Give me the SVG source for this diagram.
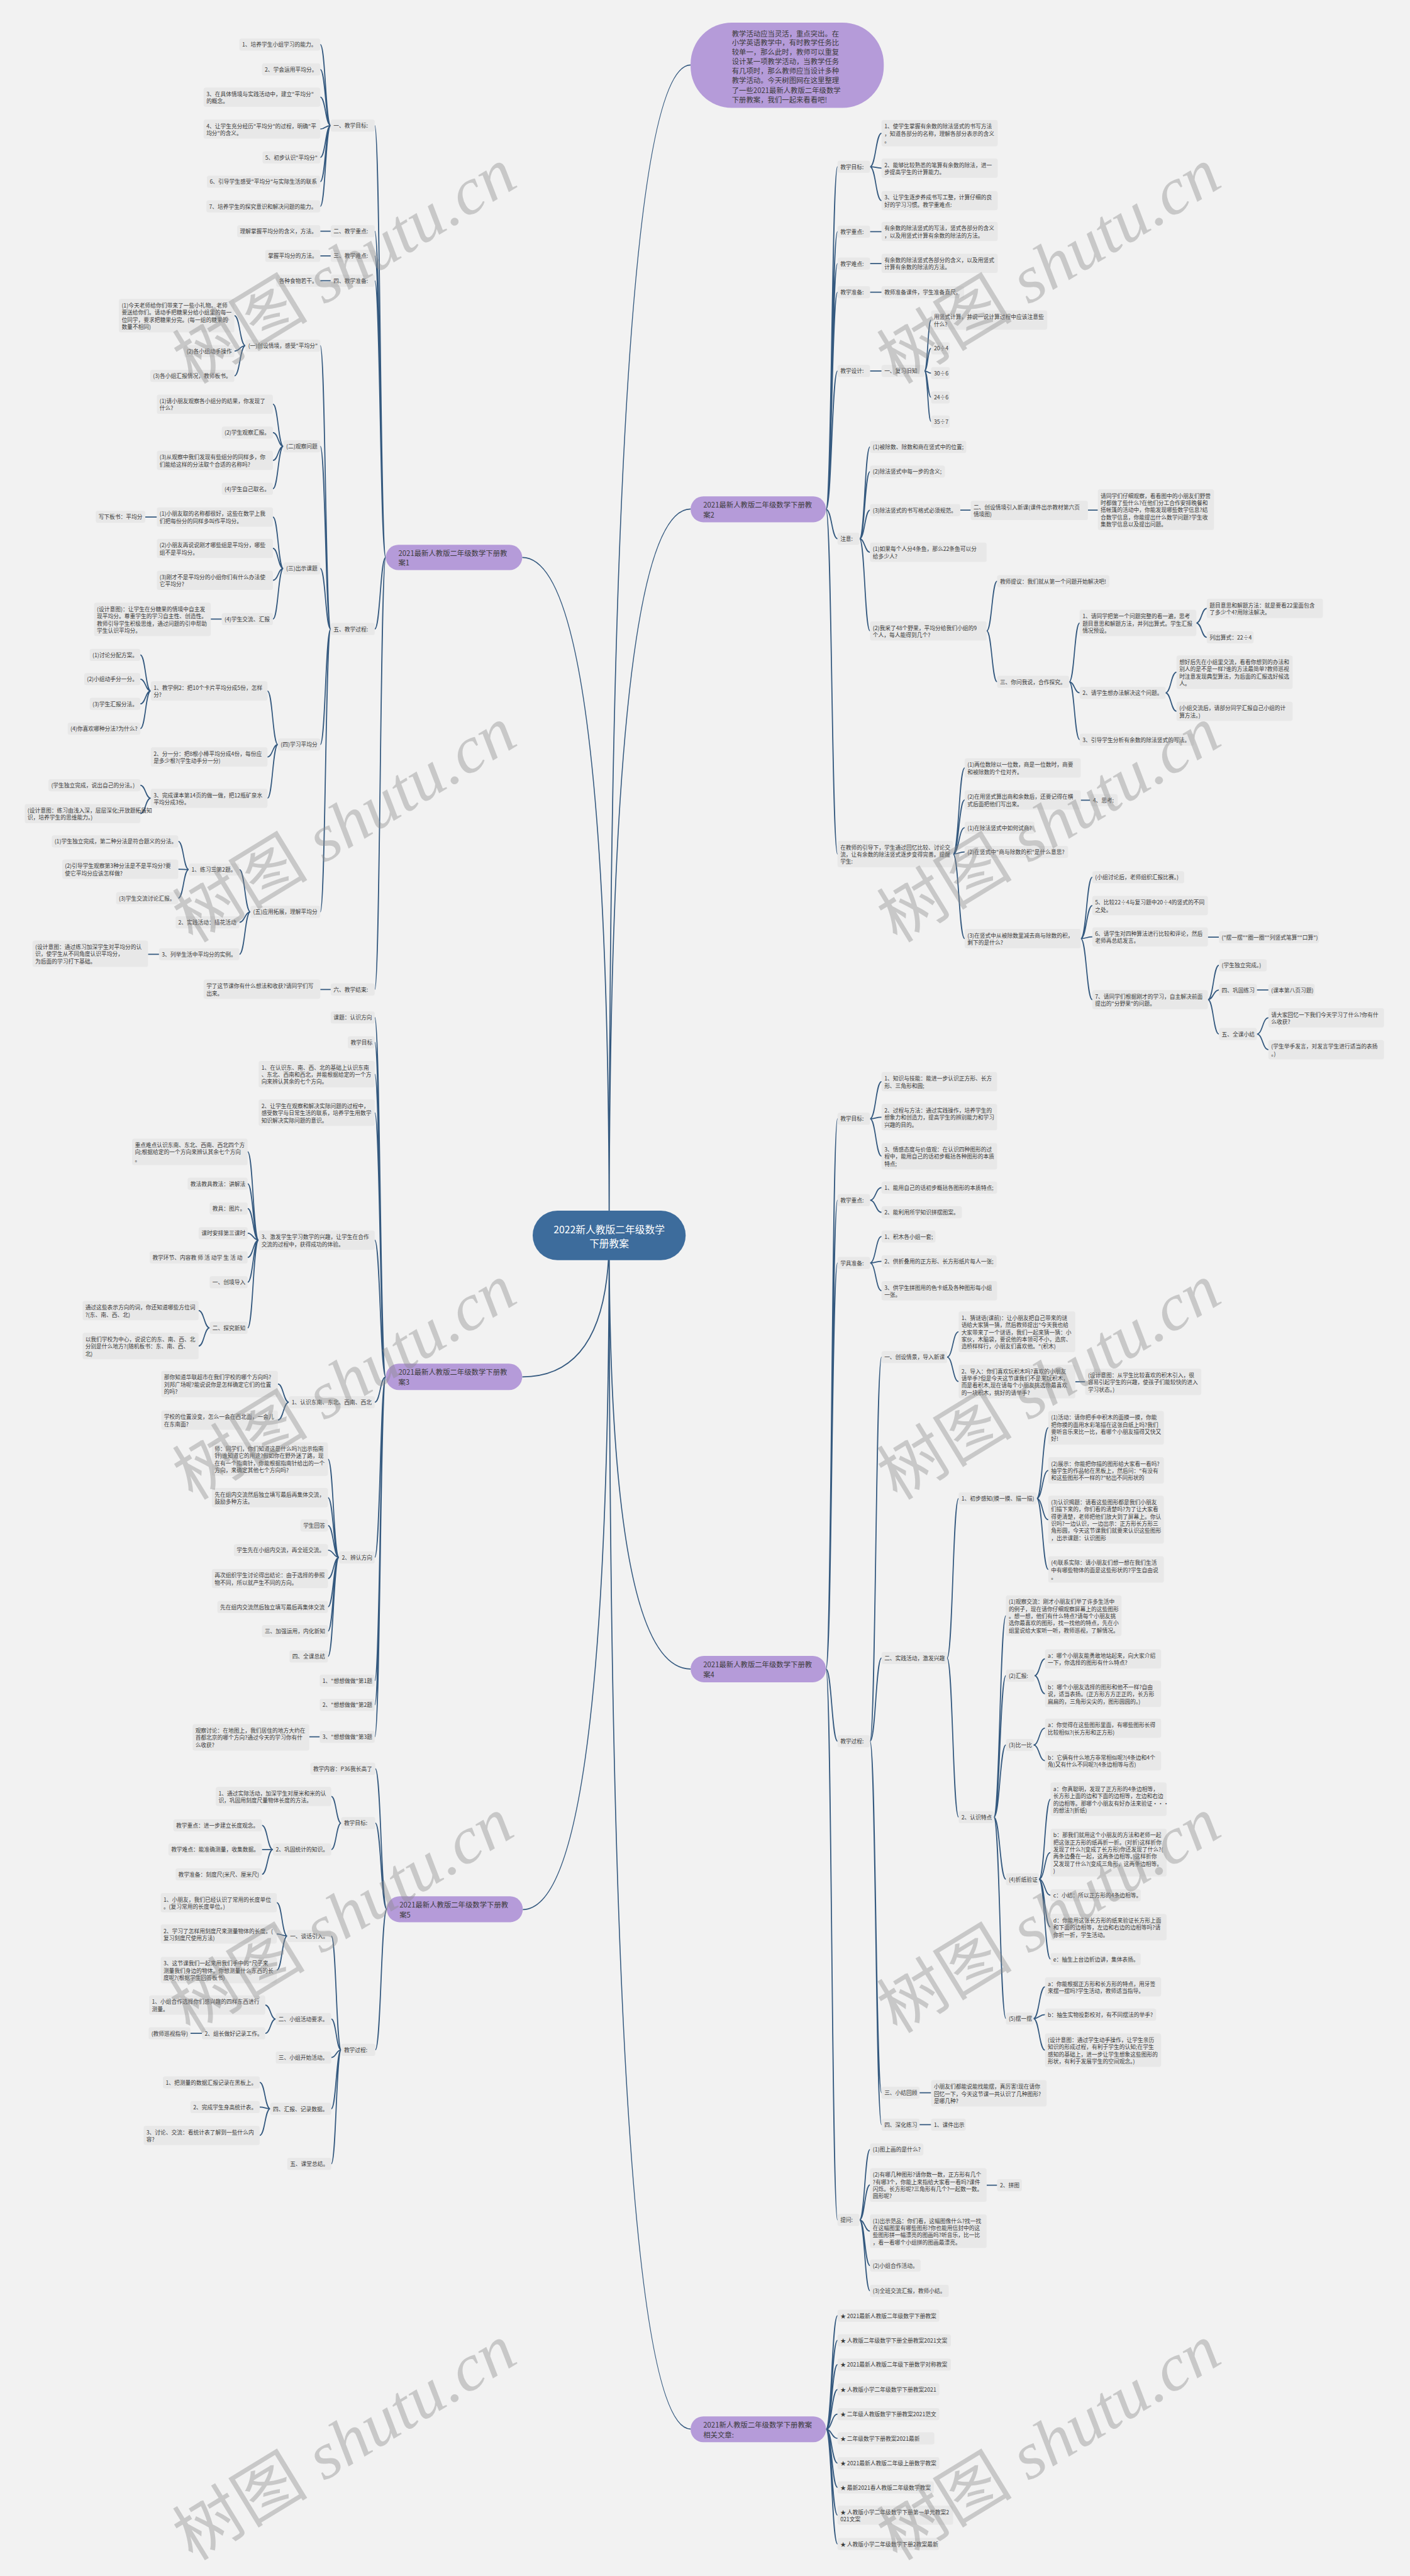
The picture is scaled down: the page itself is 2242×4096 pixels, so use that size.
<svg xmlns="http://www.w3.org/2000/svg" width="2242" height="4096" viewBox="0 0 2242 4096">
<style>
.n{fill:#e8e8e8}
.t{font-family:"Noto Sans CJK SC","Noto Sans",sans-serif;font-size:10px;fill:#3a3a3a;dominant-baseline:central}
.b{fill:#b59bd9}
.bt{font-family:"Noto Sans CJK SC","Noto Sans",sans-serif;font-size:13px;fill:#3a3a3a;dominant-baseline:central}
.c{fill:none;stroke:#34597f;stroke-width:2}
.wm{font-family:"Liberation Serif","Noto Sans CJK SC",serif;font-size:120px;fill:#8c8c8c;opacity:.4}
</style>
<rect width="2242" height="4096" fill="#f2f2f2"/>
<g transform="scale(0.875)">
<g id="connectors">
<path class="c" d="M1107 2245Q1107 118 1255 118M1107 2245Q1107 925 1255 925M1107 2245Q1107 3033 1255 3033M1107 2245Q1107 4414 1255 4414M1107 2245Q1107 1013 949 1013M1107 2245Q1107 2502 949 2502M1107 2245Q1107 3470 950 3470"/>
<path class="c" d="M701 1013C691 1013 691 228 681 228M701 1013C691 1013 691 420 681 420M701 1013C691 1013 691 465 681 465M701 1013C691 1013 691 510 681 510M701 1013C691 1013 691 1143 681 1143M701 1013C691 1013 691 1798 681 1798"/>
<path class="c" d="M601 228C591.5 228 591.5 81 582 81M601 228C591.5 228 591.5 126 582 126M601 228C591.5 228 591.5 176.5 582 176.5M601 228C591.5 228 591.5 234.5 582 234.5M601 228C591.5 228 591.5 286 582 286M601 228C591.5 228 591.5 330 582 330M601 228C591.5 228 591.5 375 582 375M601 420H582M601 465H582M601 510H582M601 1798H582"/>
<path class="c" d="M601 1143C591.5 1143 591.5 628 582 628M601 1143C591.5 1143 591.5 811 582 811M601 1143C591.5 1143 591.5 1033 582 1033M601 1143C591.5 1143 591.5 1353 582 1353M601 1143C591.5 1143 591.5 1657 582 1657"/>
<path class="c" d="M446 628C436 628 436 573.5 426 573.5M446 628C436 628 436 638 426 638M446 628C436 628 436 683 426 683"/>
<path class="c" d="M515 811C505.5 811 505.5 734.5 496 734.5M515 811C505.5 811 505.5 786 496 786M515 811C505.5 811 505.5 836.5 496 836.5M515 811C505.5 811 505.5 888 496 888"/>
<path class="c" d="M515 1033C505.5 1033 505.5 939.5 496 939.5M515 1033C505.5 1033 505.5 996.5 496 996.5M515 1033C505.5 1033 505.5 1054.5 496 1054.5M515 1033C505.5 1033 505.5 1125 496 1125M285 939.5H264M403 1125H383"/>
<path class="c" d="M505 1353C495.5 1353 495.5 1255.5 486 1255.5M505 1353C495.5 1353 495.5 1375.5 486 1375.5M505 1353C495.5 1353 495.5 1450.5 486 1450.5"/>
<path class="c" d="M274 1255.5C264.5 1255.5 264.5 1190 255 1190M274 1255.5C264.5 1255.5 264.5 1234 255 1234M274 1255.5C264.5 1255.5 264.5 1279 255 1279M274 1255.5C264.5 1255.5 264.5 1324 255 1324M274 1450.5C264.5 1450.5 264.5 1427 255 1427M274 1450.5C264.5 1450.5 264.5 1478.5 255 1478.5"/>
<path class="c" d="M455 1657C445 1657 445 1580 435 1580M455 1657C445 1657 445 1676 435 1676M455 1657C445 1657 445 1734 435 1734M343 1580C333.5 1580 333.5 1529 324 1529M343 1580C333.5 1580 333.5 1579.5 324 1579.5M343 1580C333.5 1580 333.5 1632 324 1632M289 1734H269"/>
<path class="c" d="M701 2502C691 2502 691 1849 681 1849M701 2502C691 2502 691 1894 681 1894M701 2502C691 2502 691 1952 681 1952M701 2502C691 2502 691 2022 681 2022M701 2502C691 2502 691 2253.5 681 2253.5M701 2502C691 2502 691 2548 681 2548M701 2502C691 2502 691 2830 681 2830M701 2502C691 2502 691 3054 681 3054M701 2502C691 2502 691 3098 681 3098M701 2502C691 2502 691 3156 681 3156"/>
<path class="c" d="M470 2253.5C460 2253.5 460 2093 450 2093M470 2253.5C460 2253.5 460 2151 450 2151M470 2253.5C460 2253.5 460 2196 450 2196M470 2253.5C460 2253.5 460 2241 450 2241M470 2253.5C460 2253.5 460 2285 450 2285M470 2253.5C460 2253.5 460 2330 450 2330M470 2253.5C460 2253.5 460 2413 450 2413M381 2413C371 2413 371 2381.5 361 2381.5M381 2413C371 2413 371 2446 361 2446"/>
<path class="c" d="M525 2548C515 2548 515 2515 505 2515M525 2548C515 2548 515 2580.5 505 2580.5M581 3156H562"/>
<path class="c" d="M616 2830C606 2830 606 2651.5 596 2651.5M616 2830C606 2830 606 2721.5 596 2721.5M616 2830C606 2830 606 2772 596 2772M616 2830C606 2830 606 2817 596 2817M616 2830C606 2830 606 2868.5 596 2868.5M616 2830C606 2830 606 2920 596 2920M616 2830C606 2830 606 2964 596 2964M616 2830C606 2830 606 3010 596 3010"/>
<path class="c" d="M703 3469.5C692.5 3469.5 692.5 3214 682 3214M703 3469.5C692.5 3469.5 692.5 3313 682 3313M703 3469.5C692.5 3469.5 692.5 3725 682 3725"/>
<path class="c" d="M620 3313C611 3313 611 3264.5 602 3264.5M620 3313C611 3313 611 3361 602 3361M496 3361C486 3361 486 3317 476 3317M496 3361H476M496 3361C486 3361 486 3406 476 3406"/>
<path class="c" d="M620 3725C611 3725 611 3518 602 3518M620 3725C611 3725 611 3669 602 3669M620 3725C611 3725 611 3739 602 3739M620 3725C611 3725 611 3832 602 3832M620 3725C611 3725 611 3932 602 3932"/>
<path class="c" d="M522 3518C512.5 3518 512.5 3457.5 503 3457.5M522 3518C512.5 3518 512.5 3514.5 503 3514.5M522 3518C512.5 3518 512.5 3580 503 3580M501 3669C491.5 3669 491.5 3643.5 482 3643.5M501 3669C491.5 3669 491.5 3695 482 3695M367 3695H346M491 3832C481.5 3832 481.5 3784 472 3784M491 3832C481.5 3832 481.5 3829 472 3829M491 3832C481.5 3832 481.5 3880.5 472 3880.5"/>
<path class="c" d="M1501 925.5C1511.5 925.5 1511.5 303 1522 303M1501 925.5C1511.5 925.5 1511.5 421 1522 421M1501 925.5C1511.5 925.5 1511.5 479 1522 479M1501 925.5C1511.5 925.5 1511.5 531 1522 531M1501 925.5C1511.5 925.5 1511.5 674 1522 674M1501 925.5C1511.5 925.5 1511.5 979 1522 979M1501 925.5C1511.5 925.5 1511.5 1552 1522 1552"/>
<path class="c" d="M1581 303C1591.5 303 1591.5 242 1602 242M1581 303C1591.5 303 1591.5 305.5 1602 305.5M1581 303C1591.5 303 1591.5 364.5 1602 364.5M1581 421H1602M1581 479H1602M1581 531H1602M1581 674H1602"/>
<path class="c" d="M1680 674C1686 674 1686 581.5 1692 581.5M1680 674C1686 674 1686 633 1692 633M1680 674C1686 674 1686 678 1692 678M1680 674C1686 674 1686 722 1692 722M1680 674C1686 674 1686 766 1692 766"/>
<path class="c" d="M1562 979C1571.5 979 1571.5 812 1581 812M1562 979C1571.5 979 1571.5 857 1581 857M1562 979C1571.5 979 1571.5 927 1581 927M1562 979C1571.5 979 1571.5 1003.5 1581 1003.5M1562 979C1571.5 979 1571.5 1146.5 1581 1146.5M1745 927H1764M1977 927H1995"/>
<path class="c" d="M1793 1146.5C1802.5 1146.5 1802.5 1056 1812 1056M1793 1146.5C1802.5 1146.5 1802.5 1239 1812 1239M1943 1239C1952.5 1239 1952.5 1132 1962 1132M1943 1239C1952.5 1239 1952.5 1259 1962 1259M1943 1239C1952.5 1239 1952.5 1344 1962 1344"/>
<path class="c" d="M2174 1132C2183.5 1132 2183.5 1105.5 2193 1105.5M2174 1132C2183.5 1132 2183.5 1158 2193 1158M2118 1259C2128 1259 2128 1221.5 2138 1221.5M2118 1259C2128 1259 2128 1292.5 2138 1292.5"/>
<path class="c" d="M1732 1552C1742.5 1552 1742.5 1395.5 1753 1395.5M1732 1552C1742.5 1552 1742.5 1453.5 1753 1453.5M1732 1552C1742.5 1552 1742.5 1504 1753 1504M1732 1552C1742.5 1552 1742.5 1548 1753 1548M1732 1552C1742.5 1552 1742.5 1705.5 1753 1705.5M1964 1454H1981"/>
<path class="c" d="M1964 1705.5C1974.5 1705.5 1974.5 1594 1985 1594M1964 1705.5C1974.5 1705.5 1974.5 1645.5 1985 1645.5M1964 1705.5C1974.5 1705.5 1974.5 1702.5 1985 1702.5M1964 1705.5C1974.5 1705.5 1974.5 1816.5 1985 1816.5M2195 1703H2215"/>
<path class="c" d="M2195 1816.5C2205 1816.5 2205 1754 2215 1754M2195 1816.5C2205 1816.5 2205 1799 2215 1799M2195 1816.5C2205 1816.5 2205 1879 2215 1879M2284 1799H2305M2284 1879C2294.5 1879 2294.5 1849.5 2305 1849.5M2284 1879C2294.5 1879 2294.5 1907.5 2305 1907.5"/>
<path class="c" d="M1501 3033C1511.5 3033 1511.5 2033 1522 2033M1501 3033C1511.5 3033 1511.5 2181 1522 2181M1501 3033C1511.5 3033 1511.5 2295 1522 2295M1501 3033C1511.5 3033 1511.5 3164 1522 3164M1501 3033C1511.5 3033 1511.5 4034 1522 4034"/>
<path class="c" d="M1581 2033C1591.5 2033 1591.5 1965.5 1602 1965.5M1581 2033C1591.5 2033 1591.5 2030 1602 2030M1581 2033C1591.5 2033 1591.5 2101 1602 2101M1581 2181C1591.5 2181 1591.5 2158 1602 2158M1581 2181C1591.5 2181 1591.5 2203 1602 2203M1581 2295C1591.5 2295 1591.5 2247 1602 2247M1581 2295C1591.5 2295 1591.5 2292 1602 2292M1581 2295C1591.5 2295 1591.5 2345.5 1602 2345.5"/>
<path class="c" d="M1581 3164C1591.5 3164 1591.5 2466 1602 2466M1581 3164C1591.5 3164 1591.5 3013 1602 3013M1581 3164C1591.5 3164 1591.5 3803 1602 3803M1581 3164C1591.5 3164 1591.5 3861 1602 3861M1671 3803H1692M1671 3861H1692"/>
<path class="c" d="M1721 2466C1731.5 2466 1731.5 2420 1742 2420M1721 2466C1731.5 2466 1731.5 2510.5 1742 2510.5M1954 2511H1972M1721 3013C1731.5 3013 1731.5 2723 1742 2723M1721 3013C1731.5 3013 1731.5 3302 1742 3302"/>
<path class="c" d="M1884 2723C1894.5 2723 1894.5 2594.5 1905 2594.5M1884 2723C1894.5 2723 1894.5 2672 1905 2672M1884 2723C1894.5 2723 1894.5 2761.5 1905 2761.5M1884 2723C1894.5 2723 1894.5 2852 1905 2852"/>
<path class="c" d="M1806 3302C1817 3302 1817 2936 1828 2936M1806 3302C1817 3302 1817 3045 1828 3045M1806 3302C1817 3302 1817 3171 1828 3171M1806 3302C1817 3302 1817 3415 1828 3415M1806 3302C1817 3302 1817 3668 1828 3668"/>
<path class="c" d="M1880 3045C1889.5 3045 1889.5 3014.5 1899 3014.5M1880 3045C1889.5 3045 1889.5 3078 1899 3078M1878 3171C1888.5 3171 1888.5 3140.5 1899 3140.5M1878 3171C1888.5 3171 1888.5 3199.5 1899 3199.5"/>
<path class="c" d="M1888 3415C1898.5 3415 1898.5 3269.5 1909 3269.5M1888 3415C1898.5 3415 1898.5 3366.5 1909 3366.5M1888 3415C1898.5 3415 1898.5 3444 1909 3444M1888 3415C1898.5 3415 1898.5 3502 1909 3502M1888 3415C1898.5 3415 1898.5 3560 1909 3560"/>
<path class="c" d="M1878 3668C1888.5 3668 1888.5 3610.5 1899 3610.5M1878 3668C1888.5 3668 1888.5 3661 1899 3661M1878 3668C1888.5 3668 1888.5 3725.5 1899 3725.5"/>
<path class="c" d="M1562 4034C1571.5 4034 1571.5 3906 1581 3906M1562 4034C1571.5 4034 1571.5 3970.5 1581 3970.5M1562 4034C1571.5 4034 1571.5 4054.5 1581 4054.5M1562 4034C1571.5 4034 1571.5 4117 1581 4117M1562 4034C1571.5 4034 1571.5 4163 1581 4163M1793 3971H1812"/>
<path class="c" d="M1501 4414.5C1511.5 4414.5 1511.5 4208 1522 4208M1501 4414.5C1511.5 4414.5 1511.5 4253 1522 4253M1501 4414.5C1511.5 4414.5 1511.5 4297 1522 4297M1501 4414.5C1511.5 4414.5 1511.5 4342 1522 4342M1501 4414.5C1511.5 4414.5 1511.5 4387 1522 4387M1501 4414.5C1511.5 4414.5 1511.5 4431 1522 4431M1501 4414.5C1511.5 4414.5 1511.5 4476 1522 4476M1501 4414.5C1511.5 4414.5 1511.5 4520 1522 4520M1501 4414.5C1511.5 4414.5 1511.5 4570.5 1522 4570.5M1501 4414.5C1511.5 4414.5 1511.5 4623 1522 4623"/>
</g>

<g id="root"><rect x="968" y="2200" width="278" height="90" rx="45" fill="#3d6c9c"/><text font-family="Noto Sans CJK SC,sans-serif" font-size="18" fill="#fff" text-anchor="middle" dominant-baseline="central"><tspan x="1107" y="2233">2022新人教版二年级数学</tspan><tspan x="1107" y="2258">下册教案</tspan></text></g>

<g id="intro"><rect class="b" x="1255" y="41" width="351" height="155" rx="75"/><text class="bt"><tspan x="1330" y="60">教学活动应当灵活，重点突出。在</tspan><tspan x="1330" y="77">小学英语教学中，有时教学任务比</tspan><tspan x="1330" y="94">较单一，那么此时，教师可以重复</tspan><tspan x="1330" y="111">设计某一项教学活动，当教学任务</tspan><tspan x="1330" y="128">有几项时，那么教师应当设计多种</tspan><tspan x="1330" y="145">教学活动。今天树图网在这里整理</tspan><tspan x="1330" y="163">了一些2021最新人教版二年级数学</tspan><tspan x="1330" y="180">下册教案，我们一起来看看吧!</tspan></text></g>

<!-- Branch 1 -->
<g id="b1"><rect class="b" x="701" y="990" width="248" height="46" rx="23"/><text class="bt"><tspan x="724" y="1004">2021最新人教版二年级数学下册教</tspan><tspan x="724" y="1022">案1</tspan></text></g>
<g id="b1-1"><rect class="n" x="601" y="217" width="80" height="22" rx="4"/><text class="t" x="606" y="228">一、教学目标:</text></g>
<g id="b1-1-1"><rect class="n" x="435" y="70" width="147" height="22" rx="4"/><text class="t" x="440" y="81">1、培养学生小组学习的能力。</text></g>
<g id="b1-1-2"><rect class="n" x="476" y="115" width="106" height="22" rx="4"/><text class="t" x="481" y="126">2、学会运用平均分。</text></g>
<g id="b1-1-3"><rect class="n" x="370" y="159" width="212" height="35" rx="4"/><text class="t"><tspan x="375" y="170">3、在具体情境与实践活动中，建立"平均分"</tspan><tspan x="375" y="183">的概念。</tspan></text></g>
<g id="b1-1-4"><rect class="n" x="370" y="217" width="212" height="35" rx="4"/><text class="t"><tspan x="375" y="228">4、让学生充分经历"平均分"的过程，明确"平</tspan><tspan x="375" y="241">均分"的含义。</tspan></text></g>
<g id="b1-1-5"><rect class="n" x="477" y="275" width="105" height="22" rx="4"/><text class="t" x="482" y="286">5、初步认识"平均分"</text></g>
<g id="b1-1-6"><rect class="n" x="376" y="319" width="206" height="22" rx="4"/><text class="t" x="381" y="330">6、引导学生感受"平均分"与实际生活的联系</text></g>
<g id="b1-1-7"><rect class="n" x="375" y="364" width="207" height="22" rx="4"/><text class="t" x="380" y="375">7、培养学生的探究意识和解决问题的能力。</text></g>
<g id="b1-2"><rect class="n" x="601" y="409" width="80" height="22" rx="4"/><text class="t" x="606" y="420">二、教学重点:</text></g>
<g id="b1-2-1"><rect class="n" x="431" y="409" width="151" height="22" rx="4"/><text class="t" x="436" y="420">理解掌握平均分的含义，方法。</text></g>
<g id="b1-3"><rect class="n" x="601" y="454" width="80" height="22" rx="4"/><text class="t" x="606" y="465">三、教学难点:</text></g>
<g id="b1-3-1"><rect class="n" x="482" y="454" width="100" height="22" rx="4"/><text class="t" x="487" y="465">掌握平均分的方法。</text></g>
<g id="b1-4"><rect class="n" x="601" y="499" width="80" height="22" rx="4"/><text class="t" x="606" y="510">四、教学准备:</text></g>
<g id="b1-4-1"><rect class="n" x="502" y="499" width="80" height="22" rx="4"/><text class="t" x="507" y="510">各种食物若干。</text></g>
<g id="b1-5"><rect class="n" x="601" y="1132" width="80" height="22" rx="4"/><text class="t" x="606" y="1143">五、教学过程:</text></g>
<g id="b1-6"><rect class="n" x="601" y="1787" width="80" height="22" rx="4"/><text class="t" x="606" y="1798">六、教学结束:</text></g>
<g id="b1-6-1"><rect class="n" x="370" y="1780" width="212" height="35" rx="4"/><text class="t"><tspan x="375" y="1791">学了这节课你有什么想法和收获?请同学们写</tspan><tspan x="375" y="1804">出来。</tspan></text></g>
<g id="c1"><rect class="n" x="446" y="617" width="136" height="22" rx="4"/><text class="t" x="451" y="628">(一)创设情境，感受"平均分"</text></g>
<g id="c1-1"><rect class="n" x="216" y="543" width="210" height="61" rx="4"/><text class="t"><tspan x="221" y="554">(1)今天老师给你们带来了一些小礼物。老师</tspan><tspan x="221" y="567">要送给你们。请动手把糖果分给小组里的每一</tspan><tspan x="221" y="580">位同学，要求把糖果分完。(每一组的糖果的</tspan><tspan x="221" y="593">数量不相同)</tspan></text></g>
<g id="c1-2"><rect class="n" x="334" y="627" width="92" height="22" rx="4"/><text class="t" x="339" y="638">(2)各小组动手操作</text></g>
<g id="c1-3"><rect class="n" x="273" y="672" width="153" height="22" rx="4"/><text class="t" x="278" y="683">(3)各小组汇报情况，教师板书。</text></g>
<g id="c2"><rect class="n" x="515" y="800" width="67" height="22" rx="4"/><text class="t" x="520" y="811">(二)观察问题</text></g>
<g id="c2-1"><rect class="n" x="285" y="717" width="211" height="35" rx="4"/><text class="t"><tspan x="290" y="728">(1)请小朋友观察各小组分的结果，你发现了</tspan><tspan x="290" y="741">什么?</tspan></text></g>
<g id="c2-2"><rect class="n" x="403" y="775" width="93" height="22" rx="4"/><text class="t" x="408" y="786">(2)学生观察汇报。</text></g>
<g id="c2-3"><rect class="n" x="285" y="819" width="211" height="35" rx="4"/><text class="t"><tspan x="290" y="830">(3)从观察中我们发现有些组分的同样多，你</tspan><tspan x="290" y="843">们能给这样的分法取个合适的名称吗?</tspan></text></g>
<g id="c2-4"><rect class="n" x="403" y="877" width="93" height="22" rx="4"/><text class="t" x="408" y="888">(4)学生自己取名。</text></g>
<g id="c3"><rect class="n" x="515" y="1022" width="67" height="22" rx="4"/><text class="t" x="520" y="1033">(三)出示课题</text></g>
<g id="c3-1"><rect class="n" x="285" y="922" width="211" height="35" rx="4"/><text class="t"><tspan x="290" y="933">(1)小朋友取的名称都很好，这些在数学上我</tspan><tspan x="290" y="946">们把每份分的同样多叫作平均分。</tspan></text></g>
<g id="c3-1-1"><rect class="n" x="174" y="928" width="90" height="22" rx="4"/><text class="t" x="179" y="939">写下板书：平均分</text></g>
<g id="c3-2"><rect class="n" x="285" y="979" width="211" height="35" rx="4"/><text class="t"><tspan x="290" y="990">(2)小朋友再说说刚才哪些组是平均分，哪些</tspan><tspan x="290" y="1003">组不是平均分。</tspan></text></g>
<g id="c3-3"><rect class="n" x="285" y="1037" width="211" height="35" rx="4"/><text class="t"><tspan x="290" y="1048">(3)刚才不是平均分的小组你们有什么办法使</tspan><tspan x="290" y="1061">它平均分?</tspan></text></g>
<g id="c3-4"><rect class="n" x="403" y="1114" width="93" height="22" rx="4"/><text class="t" x="408" y="1125">(4)学生交流、汇报</text></g>
<g id="c3-4-1"><rect class="n" x="171" y="1095" width="212" height="61" rx="4"/><text class="t"><tspan x="176" y="1106">(设计意图)：让学生在分糖果的情境中自主发</tspan><tspan x="176" y="1119">现平均分。尊重学生的学习自主性、创造性。</tspan><tspan x="176" y="1132">教师引导学生积极思维，通过问题的引申帮助</tspan><tspan x="176" y="1145">学生认识平均分。</tspan></text></g>
<g id="c4"><rect class="n" x="505" y="1342" width="77" height="22" rx="4"/><text class="t" x="510" y="1353">(四)学习平均分</text></g>
<g id="d1"><rect class="n" x="274" y="1238" width="212" height="35" rx="4"/><text class="t"><tspan x="279" y="1249">1、教学例2：把10个卡片平均分成5份，怎样</tspan><tspan x="279" y="1262">分?</tspan></text></g>
<g id="d1-1"><rect class="n" x="163" y="1179" width="92" height="22" rx="4"/><text class="t" x="168" y="1190">(1)讨论分配方案。</text></g>
<g id="d1-2"><rect class="n" x="153" y="1223" width="102" height="22" rx="4"/><text class="t" x="158" y="1234">(2)小组动手分一分。</text></g>
<g id="d1-3"><rect class="n" x="163" y="1268" width="92" height="22" rx="4"/><text class="t" x="168" y="1279">(3)学生汇报分法。</text></g>
<g id="d1-4"><rect class="n" x="123" y="1313" width="132" height="22" rx="4"/><text class="t" x="128" y="1324">(4)你喜欢哪种分法?为什么?</text></g>
<g id="d2"><rect class="n" x="274" y="1358" width="212" height="35" rx="4"/><text class="t"><tspan x="279" y="1369">2、分一分：把8根小棒平均分成4份，每份应</tspan><tspan x="279" y="1382">是多少根?(学生动手分一分)</tspan></text></g>
<g id="d3"><rect class="n" x="274" y="1433" width="212" height="35" rx="4"/><text class="t"><tspan x="279" y="1444">3、完成课本第14页的做一做，把12瓶矿泉水</tspan><tspan x="279" y="1457">平均分成3份。</tspan></text></g>
<g id="d3-1"><rect class="n" x="88" y="1416" width="167" height="22" rx="4"/><text class="t" x="93" y="1427">(学生独立完成，说出自己的分法。)</text></g>
<g id="d3-2"><rect class="n" x="45" y="1461" width="210" height="35" rx="4"/><text class="t"><tspan x="50" y="1472">(设计意图：练习由浅入深，层层深化;开放题拓展知</tspan><tspan x="50" y="1485">识，培养学生的思维能力。)</tspan></text></g>
<g id="c5"><rect class="n" x="455" y="1646" width="127" height="22" rx="4"/><text class="t" x="460" y="1657">(五)应用拓展，理解平均分</text></g>
<g id="e1"><rect class="n" x="343" y="1569" width="92" height="22" rx="4"/><text class="t" x="348" y="1580">1、练习三第2题。</text></g>
<g id="e1-1"><rect class="n" x="94" y="1518" width="230" height="22" rx="4"/><text class="t" x="99" y="1529">(1)学生独立完成，第二种分法是符合题义的分法。</text></g>
<g id="e1-2"><rect class="n" x="113" y="1562" width="211" height="35" rx="4"/><text class="t"><tspan x="118" y="1573">(2)引导学生观察第3种分法是不是平均分?要</tspan><tspan x="118" y="1586">使它平均分应该怎样做?</tspan></text></g>
<g id="e1-3"><rect class="n" x="211" y="1621" width="113" height="22" rx="4"/><text class="t" x="216" y="1632">(3)学生交流讨论汇报。</text></g>
<g id="e2"><rect class="n" x="319" y="1665" width="116" height="22" rx="4"/><text class="t" x="324" y="1676">2、实践活动：插花活动</text></g>
<g id="e3"><rect class="n" x="289" y="1723" width="146" height="22" rx="4"/><text class="t" x="294" y="1734">3、列举生活中平均分的实例。</text></g>
<g id="e3-1"><rect class="n" x="59" y="1709" width="210" height="48" rx="4"/><text class="t"><tspan x="64" y="1720">(设计意图：通过练习加深学生对平均分的认</tspan><tspan x="64" y="1733">识，使学生从不同角度认识平均分，</tspan><tspan x="64" y="1746">为后面的学习打下基础。</tspan></text></g>

<!-- Branch 3 -->
<g id="b3"><rect class="b" x="701" y="2478" width="248" height="48" rx="24"/><text class="bt"><tspan x="724" y="2493">2021最新人教版二年级数学下册教</tspan><tspan x="724" y="2511">案3</tspan></text></g>
<g id="b3-1"><rect class="n" x="601" y="1838" width="80" height="22" rx="4"/><text class="t" x="606" y="1849">课题：认识方向</text></g>
<g id="b3-2"><rect class="n" x="632" y="1883" width="49" height="22" rx="4"/><text class="t" x="637" y="1894">教学目标</text></g>
<g id="b3-3"><rect class="n" x="470" y="1928" width="211" height="48" rx="4"/><text class="t"><tspan x="475" y="1939">1、在认识东、南、西、北的基础上认识东南</tspan><tspan x="475" y="1952">、东北、西南和西北，并能根据给定的一个方</tspan><tspan x="475" y="1965">向来辨认其余的七个方向。</tspan></text></g>
<g id="b3-4"><rect class="n" x="470" y="1998" width="211" height="48" rx="4"/><text class="t"><tspan x="475" y="2009">2、让学生在观察和解决实际问题的过程中，</tspan><tspan x="475" y="2022">感受数学与日常生活的联系，培养学生用数学</tspan><tspan x="475" y="2035">知识解决实际问题的意识。</tspan></text></g>
<g id="b3-5"><rect class="n" x="470" y="2236" width="211" height="35" rx="4"/><text class="t"><tspan x="475" y="2247">3、激发学生学习数学的兴趣，让学生在合作</tspan><tspan x="475" y="2260">交流的过程中，获得成功的体验。</tspan></text></g>
<g id="b3-5-1"><rect class="n" x="240" y="2069" width="210" height="48" rx="4"/><text class="t"><tspan x="245" y="2080">重点难点认识东南、东北、西南、西北四个方</tspan><tspan x="245" y="2093">向;根据给定的一个方向来辨认其余七个方向</tspan><tspan x="245" y="2106">。</tspan></text></g>
<g id="b3-5-2"><rect class="n" x="341" y="2140" width="109" height="22" rx="4"/><text class="t" x="346" y="2151">教法教具教法：讲解法</text></g>
<g id="b3-5-3"><rect class="n" x="381" y="2185" width="69" height="22" rx="4"/><text class="t" x="386" y="2196">教具：图片。</text></g>
<g id="b3-5-4"><rect class="n" x="361" y="2230" width="89" height="22" rx="4"/><text class="t" x="366" y="2241">课时安排第三课时</text></g>
<g id="b3-5-5"><rect class="n" x="272" y="2274" width="178" height="22" rx="4"/><text class="t" x="277" y="2285">教学环节、内容教 师 活 动学 生 活 动</text></g>
<g id="b3-5-6"><rect class="n" x="381" y="2319" width="69" height="22" rx="4"/><text class="t" x="386" y="2330">一、创境导入</text></g>
<g id="b3-5-7"><rect class="n" x="381" y="2402" width="69" height="22" rx="4"/><text class="t" x="386" y="2413">二、探究新知</text></g>
<g id="b3-5-7-1"><rect class="n" x="150" y="2364" width="211" height="35" rx="4"/><text class="t"><tspan x="155" y="2375">通过这些表示方向的词，你还知道哪些方位词</tspan><tspan x="155" y="2388">?(东、南、西、北)</tspan></text></g>
<g id="b3-5-7-2"><rect class="n" x="150" y="2422" width="211" height="48" rx="4"/><text class="t"><tspan x="155" y="2433">以我们学校为中心，说说它的东、南、西、北</tspan><tspan x="155" y="2446">分别是什么地方?(随机板书：东、南、西、</tspan><tspan x="155" y="2459">北)</tspan></text></g>
<g id="b3-6"><rect class="n" x="525" y="2537" width="156" height="22" rx="4"/><text class="t" x="530" y="2548">1、认识东南、东北、西南、西北</text></g>
<g id="b3-6-1"><rect class="n" x="293" y="2491" width="212" height="48" rx="4"/><text class="t"><tspan x="298" y="2502">那你知道华联超市在我们学校的哪个方向吗?</tspan><tspan x="298" y="2515">刘邦广场呢?能说说你是怎样确定它们的位置</tspan><tspan x="298" y="2528">的吗?</tspan></text></g>
<g id="b3-6-2"><rect class="n" x="293" y="2563" width="212" height="35" rx="4"/><text class="t"><tspan x="298" y="2574">学校的位置没变，怎么一会在西北面，一会儿</tspan><tspan x="298" y="2587">在东南面?</tspan></text></g>
<g id="b3-7"><rect class="n" x="616" y="2819" width="65" height="22" rx="4"/><text class="t" x="621" y="2830">2、辨认方向</text></g>
<g id="b3-7-1"><rect class="n" x="385" y="2621" width="211" height="61" rx="4"/><text class="t"><tspan x="390" y="2632">师：同学们，你们知道这是什么吗?(出示指南</tspan><tspan x="390" y="2645">针)谁知道它的用途?假如你在野外迷了路，现</tspan><tspan x="390" y="2658">在有一个指南针，你能根据指南针给出的一个</tspan><tspan x="390" y="2671">方向，来确定其他七个方向吗?</tspan></text></g>
<g id="b3-7-2"><rect class="n" x="385" y="2704" width="211" height="35" rx="4"/><text class="t"><tspan x="390" y="2715">先在组内交流然后独立填写最后再集体交流，</tspan><tspan x="390" y="2728">鼓励多种方法。</tspan></text></g>
<g id="b3-7-3"><rect class="n" x="546" y="2761" width="50" height="22" rx="4"/><text class="t" x="551" y="2772">学生回答</text></g>
<g id="b3-7-4"><rect class="n" x="425" y="2806" width="171" height="22" rx="4"/><text class="t" x="430" y="2817">学生先在小组内交流，再全班交流。</text></g>
<g id="b3-7-5"><rect class="n" x="385" y="2851" width="211" height="35" rx="4"/><text class="t"><tspan x="390" y="2862">再次组织学生讨论得出结论：由于选择的参照</tspan><tspan x="390" y="2875">物不同，所以就产生不同的方向。</tspan></text></g>
<g id="b3-7-6"><rect class="n" x="395" y="2909" width="201" height="22" rx="4"/><text class="t" x="400" y="2920">先在组内交流然后独立填写最后再集体交流</text></g>
<g id="b3-7-7"><rect class="n" x="476" y="2953" width="120" height="22" rx="4"/><text class="t" x="481" y="2964">三、加强运用，内化新知</text></g>
<g id="b3-7-8"><rect class="n" x="526" y="2999" width="70" height="22" rx="4"/><text class="t" x="531" y="3010">四、全课总结</text></g>
<g id="b3-8"><rect class="n" x="581" y="3043" width="100" height="22" rx="4"/><text class="t" x="586" y="3054">1、"想想做做"第1题</text></g>
<g id="b3-9"><rect class="n" x="581" y="3087" width="100" height="22" rx="4"/><text class="t" x="586" y="3098">2、"想想做做"第2题</text></g>
<g id="b3-10"><rect class="n" x="581" y="3145" width="100" height="22" rx="4"/><text class="t" x="586" y="3156">3、"想想做做"第3题</text></g>
<g id="b3-10-1"><rect class="n" x="350" y="3133" width="212" height="48" rx="4"/><text class="t"><tspan x="355" y="3144">观察讨论：在地图上，我们居住的地方大约在</tspan><tspan x="355" y="3157">首都北京的哪个方向?通过今天的学习你有什</tspan><tspan x="355" y="3170">么收获?</tspan></text></g>

<!-- Branch 5 -->
<g id="b5"><rect class="b" x="703" y="3446" width="247" height="47" rx="23"/><text class="bt"><tspan x="726" y="3461">2021最新人教版二年级数学下册教</tspan><tspan x="726" y="3479">案5</tspan></text></g>
<g id="b5-1"><rect class="n" x="564" y="3203" width="118" height="22" rx="4"/><text class="t" x="569" y="3214">教学内容：P36我长高了</text></g>
<g id="b5-2"><rect class="n" x="620" y="3302" width="62" height="22" rx="4"/><text class="t" x="625" y="3313">教学目标:</text></g>
<g id="b5-2-1"><rect class="n" x="392" y="3247" width="210" height="35" rx="4"/><text class="t"><tspan x="397" y="3258">1、通过实际活动，加深学生对厘米和米的认</tspan><tspan x="397" y="3271">识，巩固用刻度尺量物体长度的方法。</tspan></text></g>
<g id="b5-2-2"><rect class="n" x="496" y="3350" width="106" height="22" rx="4"/><text class="t" x="501" y="3361">2、巩固统计的知识。</text></g>
<g id="b5-2-2-1"><rect class="n" x="315" y="3306" width="161" height="22" rx="4"/><text class="t" x="320" y="3317">教学重点：进一步建立长度观念。</text></g>
<g id="b5-2-2-2"><rect class="n" x="306" y="3350" width="170" height="22" rx="4"/><text class="t" x="311" y="3361">教学难点：能准确测量，收集数据。</text></g>
<g id="b5-2-2-3"><rect class="n" x="319" y="3395" width="157" height="22" rx="4"/><text class="t" x="324" y="3406">教学准备：刻度尺(米尺、厘米尺)</text></g>
<g id="b5-3"><rect class="n" x="620" y="3714" width="62" height="22" rx="4"/><text class="t" x="625" y="3725">教学过程:</text></g>
<g id="b5-3-1"><rect class="n" x="522" y="3507" width="80" height="22" rx="4"/><text class="t" x="527" y="3518">一、谈话引入。</text></g>
<g id="b5-3-1-1"><rect class="n" x="292" y="3440" width="211" height="35" rx="4"/><text class="t"><tspan x="297" y="3451">1、小朋友，我们已经认识了常用的长度单位</tspan><tspan x="297" y="3464">。(复习常用的长度单位。)</tspan></text></g>
<g id="b5-3-1-2"><rect class="n" x="292" y="3497" width="211" height="35" rx="4"/><text class="t"><tspan x="297" y="3508">2、学习了怎样用刻度尺来测量物体的长度。(</tspan><tspan x="297" y="3521">复习刻度尺使用方法)</tspan></text></g>
<g id="b5-3-1-3"><rect class="n" x="292" y="3556" width="211" height="48" rx="4"/><text class="t"><tspan x="297" y="3567">3、这节课我们一起来用我们手中的"尺子来</tspan><tspan x="297" y="3580">测量我们身边的物体。你想测量什么东西的长</tspan><tspan x="297" y="3593">度呢?(根据学生回答板书)</tspan></text></g>
<g id="b5-3-2"><rect class="n" x="501" y="3658" width="101" height="22" rx="4"/><text class="t" x="506" y="3669">二、小组活动要求。</text></g>
<g id="b5-3-2-1"><rect class="n" x="271" y="3626" width="211" height="35" rx="4"/><text class="t"><tspan x="276" y="3637">1、小组合作选择你们感兴趣的四样东西进行</tspan><tspan x="276" y="3650">测量。</tspan></text></g>
<g id="b5-3-2-2"><rect class="n" x="367" y="3684" width="115" height="22" rx="4"/><text class="t" x="372" y="3695">2、组长做好记录工作。</text></g>
<g id="b5-3-2-2-1"><rect class="n" x="270" y="3684" width="76" height="22" rx="4"/><text class="t" x="275" y="3695">(教师巡视指导)</text></g>
<g id="b5-3-3"><rect class="n" x="501" y="3728" width="101" height="22" rx="4"/><text class="t" x="506" y="3739">三、小组开始活动。</text></g>
<g id="b5-3-4"><rect class="n" x="491" y="3821" width="111" height="22" rx="4"/><text class="t" x="496" y="3832">四、汇报、记录数据。</text></g>
<g id="b5-3-4-1"><rect class="n" x="296" y="3773" width="176" height="22" rx="4"/><text class="t" x="301" y="3784">1、把测量的数据汇报记录在黑板上。</text></g>
<g id="b5-3-4-2"><rect class="n" x="346" y="3818" width="126" height="22" rx="4"/><text class="t" x="351" y="3829">2、完成学生身高统计表。</text></g>
<g id="b5-3-4-3"><rect class="n" x="261" y="3863" width="211" height="35" rx="4"/><text class="t"><tspan x="266" y="3874">3、讨论、交流：看统计表了解到一些什么内</tspan><tspan x="266" y="3887">容?</tspan></text></g>
<g id="b5-3-5"><rect class="n" x="522" y="3921" width="80" height="22" rx="4"/><text class="t" x="527" y="3932">五、课堂总结。</text></g>

<!-- Branch 2 -->
<g id="b2"><rect class="b" x="1255" y="902" width="246" height="47" rx="23"/><text class="bt"><tspan x="1278" y="917">2021最新人教版二年级数学下册教</tspan><tspan x="1278" y="935">案2</tspan></text></g>
<g id="b2-1"><rect class="n" x="1522" y="292" width="59" height="22" rx="4"/><text class="t" x="1527" y="303">教学目标:</text></g>
<g id="b2-1-1"><rect class="n" x="1602" y="218" width="211" height="48" rx="4"/><text class="t"><tspan x="1607" y="229">1、使学生掌握有余数的除法竖式的书写方法</tspan><tspan x="1607" y="242">，知道各部分的名称，理解各部分表示的含义</tspan><tspan x="1607" y="255">。</tspan></text></g>
<g id="b2-1-2"><rect class="n" x="1602" y="288" width="211" height="35" rx="4"/><text class="t"><tspan x="1607" y="299">2、能够比较熟悉的笔算有余数的除法，进一</tspan><tspan x="1607" y="312">步提高学生的计算能力。</tspan></text></g>
<g id="b2-1-3"><rect class="n" x="1602" y="347" width="211" height="35" rx="4"/><text class="t"><tspan x="1607" y="358">3、让学生逐步养成书写工整，计算仔细的良</tspan><tspan x="1607" y="371">好的学习习惯。教学重难点:</tspan></text></g>
<g id="b2-2"><rect class="n" x="1522" y="410" width="59" height="22" rx="4"/><text class="t" x="1527" y="421">教学重点:</text></g>
<g id="b2-2-1"><rect class="n" x="1602" y="403" width="211" height="35" rx="4"/><text class="t"><tspan x="1607" y="414">有余数的除法竖式的写法，竖式各部分的含义</tspan><tspan x="1607" y="427">，以及用竖式计算有余数的除法的方法。</tspan></text></g>
<g id="b2-3"><rect class="n" x="1522" y="468" width="59" height="22" rx="4"/><text class="t" x="1527" y="479">教学难点:</text></g>
<g id="b2-3-1"><rect class="n" x="1602" y="461" width="211" height="35" rx="4"/><text class="t"><tspan x="1607" y="472">有余数的除法竖式各部分的含义，以及用竖式</tspan><tspan x="1607" y="485">计算有余数的除法的方法。</tspan></text></g>
<g id="b2-4"><rect class="n" x="1522" y="520" width="59" height="22" rx="4"/><text class="t" x="1527" y="531">教学准备:</text></g>
<g id="b2-4-1"><rect class="n" x="1602" y="520" width="150" height="22" rx="4"/><text class="t" x="1607" y="531">教师准备课件，学生准备直尺。</text></g>
<g id="b2-5"><rect class="n" x="1522" y="663" width="59" height="22" rx="4"/><text class="t" x="1527" y="674">教学设计:</text></g>
<g id="b2-5-1"><rect class="n" x="1602" y="663" width="78" height="22" rx="4"/><text class="t" x="1607" y="674">一、复习旧知</text></g>
<g id="b2-5-1-1"><rect class="n" x="1692" y="564" width="211" height="35" rx="4"/><text class="t"><tspan x="1697" y="575">用竖式计算，并说一说计算过程中应该注意些</tspan><tspan x="1697" y="588">什么?</tspan></text></g>
<g id="b2-5-1-2"><rect class="n" x="1692" y="622" width="34" height="22" rx="4"/><text class="t" x="1697" y="633">20÷4</text></g>
<g id="b2-5-1-3"><rect class="n" x="1692" y="667" width="34" height="22" rx="4"/><text class="t" x="1697" y="678">30÷6</text></g>
<g id="b2-5-1-4"><rect class="n" x="1692" y="711" width="34" height="22" rx="4"/><text class="t" x="1697" y="722">24÷6</text></g>
<g id="b2-5-1-5"><rect class="n" x="1692" y="755" width="34" height="22" rx="4"/><text class="t" x="1697" y="766">35÷7</text></g>
<g id="b2-6"><rect class="n" x="1522" y="968" width="40" height="22" rx="4"/><text class="t" x="1527" y="979">注意:</text></g>
<g id="b2-6-1"><rect class="n" x="1581" y="801" width="175" height="22" rx="4"/><text class="t" x="1586" y="812">(1)被除数、除数和商在竖式中的位置;</text></g>
<g id="b2-6-2"><rect class="n" x="1581" y="846" width="136" height="22" rx="4"/><text class="t" x="1586" y="857">(2)除法竖式中每一步的含义;</text></g>
<g id="b2-6-3"><rect class="n" x="1581" y="916" width="164" height="22" rx="4"/><text class="t" x="1586" y="927">(3)除法竖式的书写格式必须规范。</text></g>
<g id="b2-6-3-1"><rect class="n" x="1764" y="910" width="213" height="35" rx="4"/><text class="t"><tspan x="1769" y="921">二、创设情境引入新课(课件出示教材第六页</tspan><tspan x="1769" y="934">情境图)</tspan></text></g>
<g id="b2-6-3-1-1"><rect class="n" x="1995" y="889" width="211" height="74" rx="4"/><text class="t"><tspan x="2000" y="900">请同学们仔细观察，看看图中的小朋友们野营</tspan><tspan x="2000" y="913">时都做了些什么?在他们分工合作安排晚餐和</tspan><tspan x="2000" y="926">搭帐篷的活动中，你能发现哪些数学信息?结</tspan><tspan x="2000" y="939">合数学信息，你能提出什么数学问题?学生收</tspan><tspan x="2000" y="952">集数学信息以及提出问题。</tspan></text></g>
<g id="b2-6-4"><rect class="n" x="1581" y="986" width="212" height="35" rx="4"/><text class="t"><tspan x="1586" y="997">(1)如果每个人分4条鱼，那么22条鱼可以分</tspan><tspan x="1586" y="1010">给多少人?</tspan></text></g>
<g id="b2-6-5"><rect class="n" x="1581" y="1129" width="212" height="35" rx="4"/><text class="t"><tspan x="1586" y="1140">(2)我采了48个野果，平均分给我们小组的9</tspan><tspan x="1586" y="1153">个人，每人能得到几个?</tspan></text></g>
<g id="b2-6-5-1"><rect class="n" x="1812" y="1045" width="204" height="22" rx="4"/><text class="t" x="1817" y="1056">教师提议：我们就从第一个问题开始解决吧!</text></g>
<g id="b2-6-5-2"><rect class="n" x="1812" y="1228" width="131" height="22" rx="4"/><text class="t" x="1817" y="1239">三、你问我说，合作探究。</text></g>
<g id="b2-6-5-2-1"><rect class="n" x="1962" y="1108" width="212" height="48" rx="4"/><text class="t"><tspan x="1967" y="1119">1、请同学把第一个问题完整的看一遍，思考</tspan><tspan x="1967" y="1132">题目意思和解题方法，并列出算式。学生汇报</tspan><tspan x="1967" y="1145">情况预设。</tspan></text></g>
<g id="b2-6-5-2-1-1"><rect class="n" x="2193" y="1088" width="211" height="35" rx="4"/><text class="t"><tspan x="2198" y="1099">题目意思和解题方法：就是要看22里面包含</tspan><tspan x="2198" y="1112">了多少个4?用除法解决。</tspan></text></g>
<g id="b2-6-5-2-1-2"><rect class="n" x="2193" y="1147" width="85" height="22" rx="4"/><text class="t" x="2198" y="1158">列出算式：22÷4</text></g>
<g id="b2-6-5-2-2"><rect class="n" x="1962" y="1248" width="156" height="22" rx="4"/><text class="t" x="1967" y="1259">2、请学生想办法解决这个问题。</text></g>
<g id="b2-6-5-2-2-1"><rect class="n" x="2138" y="1191" width="211" height="61" rx="4"/><text class="t"><tspan x="2143" y="1202">想好后先在小组里交流，看看你想到的办法和</tspan><tspan x="2143" y="1215">别人的是不是一样?谁的方法最简单?教师巡视</tspan><tspan x="2143" y="1228">时注意发现典型算法，为后面的汇报选好候选</tspan><tspan x="2143" y="1241">人。</tspan></text></g>
<g id="b2-6-5-2-2-2"><rect class="n" x="2138" y="1275" width="211" height="35" rx="4"/><text class="t"><tspan x="2143" y="1286">(小组交流后，请部分同学汇报自己小组的计</tspan><tspan x="2143" y="1299">算方法。)</tspan></text></g>
<g id="b2-6-5-2-3"><rect class="n" x="1962" y="1333" width="208" height="22" rx="4"/><text class="t" x="1967" y="1344">3、引导学生分析有余数的除法竖式的写法。</text></g>
<g id="b2-7"><rect class="n" x="1522" y="1528" width="210" height="48" rx="4"/><text class="t"><tspan x="1527" y="1539">在教师的引导下，学生通过回忆比较、讨论交</tspan><tspan x="1527" y="1552">流，让有余数的除法竖式逐步变得完善。提醒</tspan><tspan x="1527" y="1565">学生:</tspan></text></g>
<g id="b2-7-1"><rect class="n" x="1753" y="1378" width="211" height="35" rx="4"/><text class="t"><tspan x="1758" y="1389">(1)两位数除以一位数，商是一位数时，商要</tspan><tspan x="1758" y="1402">和被除数的个位对齐。</tspan></text></g>
<g id="b2-7-2"><rect class="n" x="1753" y="1436" width="211" height="35" rx="4"/><text class="t"><tspan x="1758" y="1447">(2)在用竖式算出商和余数后，还要记得在横</tspan><tspan x="1758" y="1460">式后面把他们写出来。</tspan></text></g>
<g id="b2-7-2-1"><rect class="n" x="1981" y="1443" width="50" height="22" rx="4"/><text class="t" x="1986" y="1454">4、思考:</text></g>
<g id="b2-7-3"><rect class="n" x="1753" y="1493" width="127" height="22" rx="4"/><text class="t" x="1758" y="1504">(1)在除法竖式中如何试商?</text></g>
<g id="b2-7-4"><rect class="n" x="1753" y="1537" width="188" height="22" rx="4"/><text class="t" x="1758" y="1548">(2)在竖式中"商与除数的积"是什么意思?</text></g>
<g id="b2-7-5"><rect class="n" x="1753" y="1688" width="211" height="35" rx="4"/><text class="t"><tspan x="1758" y="1699">(3)在竖式中从被除数里减去商与除数的积，</tspan><tspan x="1758" y="1712">剩下的是什么?</tspan></text></g>
<g id="b2-7-5-1"><rect class="n" x="1985" y="1583" width="167" height="22" rx="4"/><text class="t" x="1990" y="1594">(小组讨论后，老师组织汇报比赛。)</text></g>
<g id="b2-7-5-2"><rect class="n" x="1985" y="1628" width="210" height="35" rx="4"/><text class="t"><tspan x="1990" y="1639">5、比较22÷4与复习题中20÷4的竖式的不同</tspan><tspan x="1990" y="1652">之处。</tspan></text></g>
<g id="b2-7-5-3"><rect class="n" x="1985" y="1685" width="210" height="35" rx="4"/><text class="t"><tspan x="1990" y="1696">6、请学生对四种算法进行比较和评论，然后</tspan><tspan x="1990" y="1709">老师再总结发言。</tspan></text></g>
<g id="b2-7-5-3-1"><rect class="n" x="2215" y="1692" width="182" height="22" rx="4"/><text class="t" x="2220" y="1703">("摆一摆""圈一圈""列竖式笔算""口算")</text></g>
<g id="b2-7-5-4"><rect class="n" x="1985" y="1799" width="210" height="35" rx="4"/><text class="t"><tspan x="1990" y="1810">7、请同学们根据刚才的学习，自主解决前面</tspan><tspan x="1990" y="1823">提出的"分野果"的问题。</tspan></text></g>
<g id="b2-7-5-4-1"><rect class="n" x="2215" y="1743" width="87" height="22" rx="4"/><text class="t" x="2220" y="1754">(学生独立完成。)</text></g>
<g id="b2-7-5-4-2"><rect class="n" x="2215" y="1788" width="69" height="22" rx="4"/><text class="t" x="2220" y="1799">四、巩固练习</text></g>
<g id="b2-7-5-4-2-1"><rect class="n" x="2305" y="1788" width="84" height="22" rx="4"/><text class="t" x="2310" y="1799">(课本第八页习题)</text></g>
<g id="b2-7-5-4-3"><rect class="n" x="2215" y="1868" width="69" height="22" rx="4"/><text class="t" x="2220" y="1879">五、全课小结</text></g>
<g id="b2-7-5-4-3-1"><rect class="n" x="2305" y="1832" width="210" height="35" rx="4"/><text class="t"><tspan x="2310" y="1843">请大家回忆一下我们今天学习了什么?你有什</tspan><tspan x="2310" y="1856">么收获?</tspan></text></g>
<g id="b2-7-5-4-3-2"><rect class="n" x="2305" y="1890" width="210" height="35" rx="4"/><text class="t"><tspan x="2310" y="1901">(学生举手发言，对发言学生进行适当的表扬</tspan><tspan x="2310" y="1914">。)</tspan></text></g>

<!-- Branch 4 -->
<g id="b4"><rect class="b" x="1255" y="3009" width="246" height="48" rx="24"/><text class="bt"><tspan x="1278" y="3024">2021最新人教版二年级数学下册教</tspan><tspan x="1278" y="3042">案4</tspan></text></g>
<g id="b4-1"><rect class="n" x="1522" y="2022" width="59" height="22" rx="4"/><text class="t" x="1527" y="2033">教学目标:</text></g>
<g id="b4-1-1"><rect class="n" x="1602" y="1948" width="210" height="35" rx="4"/><text class="t"><tspan x="1607" y="1959">1、知识与技能：能进一步认识正方形、长方</tspan><tspan x="1607" y="1972">形、三角形和圆;</tspan></text></g>
<g id="b4-1-2"><rect class="n" x="1602" y="2006" width="210" height="48" rx="4"/><text class="t"><tspan x="1607" y="2017">2、过程与方法：通过实践操作，培养学生的</tspan><tspan x="1607" y="2030">想象力和创造力，提高学生的辨别能力和学习</tspan><tspan x="1607" y="2043">兴趣的目的。</tspan></text></g>
<g id="b4-1-3"><rect class="n" x="1602" y="2077" width="210" height="48" rx="4"/><text class="t"><tspan x="1607" y="2088">3、情感态度与价值观：在认识四种图形的过</tspan><tspan x="1607" y="2101">程中，能用自己的话初步概括各种图形的本质</tspan><tspan x="1607" y="2114">特点;</tspan></text></g>
<g id="b4-2"><rect class="n" x="1522" y="2170" width="59" height="22" rx="4"/><text class="t" x="1527" y="2181">教学重点:</text></g>
<g id="b4-2-1"><rect class="n" x="1602" y="2147" width="210" height="22" rx="4"/><text class="t" x="1607" y="2158">1、能用自己的话初步概括各图形的本质特点;</text></g>
<g id="b4-2-2"><rect class="n" x="1602" y="2192" width="146" height="22" rx="4"/><text class="t" x="1607" y="2203">2、能利用所学知识拼摆图案。</text></g>
<g id="b4-3"><rect class="n" x="1522" y="2284" width="59" height="22" rx="4"/><text class="t" x="1527" y="2295">学具准备:</text></g>
<g id="b4-3-1"><rect class="n" x="1602" y="2236" width="98" height="22" rx="4"/><text class="t" x="1607" y="2247">1、积木各小组一套;</text></g>
<g id="b4-3-2"><rect class="n" x="1602" y="2281" width="209" height="22" rx="4"/><text class="t" x="1607" y="2292">2、供折叠用的正方形、长方形纸片每人一张;</text></g>
<g id="b4-3-3"><rect class="n" x="1602" y="2328" width="210" height="35" rx="4"/><text class="t"><tspan x="1607" y="2339">3、供学生拼图用的色卡纸及各种图形每小组</tspan><tspan x="1607" y="2352">一张。</tspan></text></g>
<g id="b4-4"><rect class="n" x="1522" y="3153" width="59" height="22" rx="4"/><text class="t" x="1527" y="3164">教学过程:</text></g>
<g id="b4-4-1"><rect class="n" x="1602" y="2455" width="119" height="22" rx="4"/><text class="t" x="1607" y="2466">一、创设情景，导入新课</text></g>
<g id="b4-4-1-1"><rect class="n" x="1742" y="2383" width="212" height="74" rx="4"/><text class="t"><tspan x="1747" y="2394">1、猜谜语(课前)：让小朋友把自己带来的谜</tspan><tspan x="1747" y="2407">语给大家猜一猜，然后教师提出"今天我也给</tspan><tspan x="1747" y="2420">大家带来了一个谜语，我们一起来猜一猜：小</tspan><tspan x="1747" y="2433">家伙，木脑袋，要说他的本领可不小，造房、</tspan><tspan x="1747" y="2446">造桥样样行，小朋友们喜欢他。"(积木)</tspan></text></g>
<g id="b4-4-1-2"><rect class="n" x="1742" y="2480" width="212" height="61" rx="4"/><text class="t"><tspan x="1747" y="2491">2、导入：你们喜欢玩积木吗?喜欢的小朋友</tspan><tspan x="1747" y="2504">请举手?但是今天这节课我们不是来玩积木，</tspan><tspan x="1747" y="2517">而是看积木,现在请每个小朋友挑选你最喜欢</tspan><tspan x="1747" y="2530">的一块积木，挑好的请举手?</tspan></text></g>
<g id="b4-4-1-2-1"><rect class="n" x="1972" y="2487" width="211" height="48" rx="4"/><text class="t"><tspan x="1977" y="2498">(设计意图：从学生比较喜欢的积木引入，很</tspan><tspan x="1977" y="2511">容易引起学生的兴趣，使孩子们能较快的进入</tspan><tspan x="1977" y="2524">学习状态。)</tspan></text></g>
<g id="b4-4-2"><rect class="n" x="1602" y="3002" width="119" height="22" rx="4"/><text class="t" x="1607" y="3013">二、实践活动，激发兴趣</text></g>
<g id="b4-4-2-1"><rect class="n" x="1742" y="2712" width="142" height="22" rx="4"/><text class="t" x="1747" y="2723">1、初步感知(摸一摸、描一描)</text></g>
<g id="b4-4-2-1-1"><rect class="n" x="1905" y="2564" width="210" height="61" rx="4"/><text class="t"><tspan x="1910" y="2575">(1)活动：请你把手中积木的面摸一摸，你能</tspan><tspan x="1910" y="2588">把你摸的面用水彩笔描在这张白纸上吗?我们</tspan><tspan x="1910" y="2601">要听音乐来比一比，看哪个小朋友描得又快又</tspan><tspan x="1910" y="2614">好!</tspan></text></g>
<g id="b4-4-2-1-2"><rect class="n" x="1905" y="2648" width="210" height="48" rx="4"/><text class="t"><tspan x="1910" y="2659">(2)展示：你能把你描的图形给大家看一看吗?</tspan><tspan x="1910" y="2672">抽学生的作品帖在黑板上，然后问："有没有</tspan><tspan x="1910" y="2685">和这些图形不一样的?"帖出不同形状的</tspan></text></g>
<g id="b4-4-2-1-3"><rect class="n" x="1905" y="2718" width="210" height="87" rx="4"/><text class="t"><tspan x="1910" y="2729">(3)认识揭题：请看这些图形都是我们小朋友</tspan><tspan x="1910" y="2742">们描下来的，你们看的清楚吗?为了让大家看</tspan><tspan x="1910" y="2755">得更清楚，老师把他们放大到了屏幕上。你认</tspan><tspan x="1910" y="2768">识吗?一边认识，一边出示：正方形长方形三</tspan><tspan x="1910" y="2781">角形圆，今天这节课我们就要来认识这些图形</tspan><tspan x="1910" y="2794">，出示课题：认识图形</tspan></text></g>
<g id="b4-4-2-1-4"><rect class="n" x="1905" y="2828" width="210" height="48" rx="4"/><text class="t"><tspan x="1910" y="2839">(4)联系实际：请小朋友们想一想在我们生活</tspan><tspan x="1910" y="2852">中有哪些物体的面是这些形状的?学生自由说</tspan><tspan x="1910" y="2865">。</tspan></text></g>
<g id="b4-4-2-2"><rect class="n" x="1742" y="3291" width="64" height="22" rx="4"/><text class="t" x="1747" y="3302">2、认识特点</text></g>
<g id="b4-4-2-2-1"><rect class="n" x="1828" y="2899" width="210" height="74" rx="4"/><text class="t"><tspan x="1833" y="2910">(1)观察交流：刚才小朋友们举了许多生活中</tspan><tspan x="1833" y="2923">的例子，现在请你仔细观察屏幕上的这些图形</tspan><tspan x="1833" y="2936">。想一想，他们有什么特点?请每个小朋友挑</tspan><tspan x="1833" y="2949">选你最喜欢的图形，找一找他的特点，先在小</tspan><tspan x="1833" y="2962">组里说给大家听一听，教师巡视，了解情况。</tspan></text></g>
<g id="b4-4-2-2-2"><rect class="n" x="1828" y="3034" width="52" height="22" rx="4"/><text class="t" x="1833" y="3045">(2)汇报:</text></g>
<g id="b4-4-2-2-2-1"><rect class="n" x="1899" y="2997" width="211" height="35" rx="4"/><text class="t"><tspan x="1904" y="3008">a：哪个小朋友能勇敢地站起来，向大家介绍</tspan><tspan x="1904" y="3021">一下，你选择的图形有什么特点?</tspan></text></g>
<g id="b4-4-2-2-2-2"><rect class="n" x="1899" y="3054" width="211" height="48" rx="4"/><text class="t"><tspan x="1904" y="3065">b：哪个小朋友选择的图形和他不一样?自由</tspan><tspan x="1904" y="3078">说，适当表扬。(正方形方方正正的，长方形</tspan><tspan x="1904" y="3091">扁扁的，三角形尖尖的，图形圆圆的。)</tspan></text></g>
<g id="b4-4-2-2-3"><rect class="n" x="1828" y="3160" width="50" height="22" rx="4"/><text class="t" x="1833" y="3171">(3)比一比</text></g>
<g id="b4-4-2-2-3-1"><rect class="n" x="1899" y="3123" width="211" height="35" rx="4"/><text class="t"><tspan x="1904" y="3134">a：你觉得在这些图形里面，有哪些图形长得</tspan><tspan x="1904" y="3147">比较相似?(长方形和正方形)</tspan></text></g>
<g id="b4-4-2-2-3-2"><rect class="n" x="1899" y="3182" width="211" height="35" rx="4"/><text class="t"><tspan x="1904" y="3193">b：它俩有什么地方非常相似呢?(4条边和4个</tspan><tspan x="1904" y="3206">角)又有什么不同呢?(4条边相等与否)</tspan></text></g>
<g id="b4-4-2-2-4"><rect class="n" x="1828" y="3404" width="60" height="22" rx="4"/><text class="t" x="1833" y="3415">(4)折纸验证</text></g>
<g id="b4-4-2-2-4-1"><rect class="n" x="1909" y="3239" width="211" height="61" rx="4"/><text class="t"><tspan x="1914" y="3250">a：你真聪明，发现了正方形的4条边相等，</tspan><tspan x="1914" y="3263">长方形上面的边和下面的边相等，左边和右边</tspan><tspan x="1914" y="3276">的边相等。那哪个小朋友有好办法来验证···</tspan><tspan x="1914" y="3289">的想法?(折纸)</tspan></text></g>
<g id="b4-4-2-2-4-2"><rect class="n" x="1909" y="3323" width="211" height="87" rx="4"/><text class="t"><tspan x="1914" y="3334">b：那我们就用这个小朋友的方法和老师一起</tspan><tspan x="1914" y="3347">把这张正方形的纸再折一折。(对折)这样折你</tspan><tspan x="1914" y="3360">发现了什么?(变成了长方形)你还发现了什么?(</tspan><tspan x="1914" y="3373">两条边叠在一起，这两条边相等。)这样折你</tspan><tspan x="1914" y="3386">又发现了什么?(变成三角形，这两条边相等。</tspan><tspan x="1914" y="3399">)</tspan></text></g>
<g id="b4-4-2-2-4-3"><rect class="n" x="1909" y="3433" width="164" height="22" rx="4"/><text class="t" x="1914" y="3444">c：小结：所以正方形的4条边相等。</text></g>
<g id="b4-4-2-2-4-4"><rect class="n" x="1909" y="3478" width="211" height="48" rx="4"/><text class="t"><tspan x="1914" y="3489">d：你能用这张长方形的纸来验证长方形上面</tspan><tspan x="1914" y="3502">和下面的边相等，左边和右边的边相等吗?请</tspan><tspan x="1914" y="3515">你折一折，学生活动。</tspan></text></g>
<g id="b4-4-2-2-4-5"><rect class="n" x="1909" y="3549" width="164" height="22" rx="4"/><text class="t" x="1914" y="3560">e：抽生上台边折边讲，集体表扬。</text></g>
<g id="b4-4-2-2-5"><rect class="n" x="1828" y="3657" width="50" height="22" rx="4"/><text class="t" x="1833" y="3668">(5)摆一摆</text></g>
<g id="b4-4-2-2-5-1"><rect class="n" x="1899" y="3593" width="211" height="35" rx="4"/><text class="t"><tspan x="1904" y="3604">a：你能根据正方形和长方形的特点，用牙签</tspan><tspan x="1904" y="3617">来摆一摆吗?学生活动，教师适当指导。</tspan></text></g>
<g id="b4-4-2-2-5-2"><rect class="n" x="1899" y="3650" width="202" height="22" rx="4"/><text class="t" x="1904" y="3661">b：抽生实物投影校对，有不同摆法的举手?</text></g>
<g id="b4-4-2-2-5-3"><rect class="n" x="1899" y="3695" width="211" height="61" rx="4"/><text class="t"><tspan x="1904" y="3706">(设计意图：通过学生动手操作，让学生亲历</tspan><tspan x="1904" y="3719">知识的形成过程，有利于学生的认知;在学生</tspan><tspan x="1904" y="3732">感知的基础上，进一步让学生想象这些图形的</tspan><tspan x="1904" y="3745">形状，有利于发展学生的空间观念。)</tspan></text></g>
<g id="b4-4-3"><rect class="n" x="1602" y="3792" width="69" height="22" rx="4"/><text class="t" x="1607" y="3803">三、小结回顾</text></g>
<g id="b4-4-3-1"><rect class="n" x="1692" y="3780" width="210" height="48" rx="4"/><text class="t"><tspan x="1697" y="3791">小朋友们都能说能找能摆，真厉害!现在请你</tspan><tspan x="1697" y="3804">回忆一下，今天这节课一共认识了几种图形?</tspan><tspan x="1697" y="3817">是哪几种?</tspan></text></g>
<g id="b4-4-4"><rect class="n" x="1602" y="3850" width="69" height="22" rx="4"/><text class="t" x="1607" y="3861">四、深化练习</text></g>
<g id="b4-4-4-1"><rect class="n" x="1692" y="3850" width="63" height="22" rx="4"/><text class="t" x="1697" y="3861">1、课件出示</text></g>
<g id="b4-5"><rect class="n" x="1522" y="4023" width="40" height="22" rx="4"/><text class="t" x="1527" y="4034">提问:</text></g>
<g id="b4-5-1"><rect class="n" x="1581" y="3895" width="97" height="22" rx="4"/><text class="t" x="1586" y="3906">(1)图上画的是什么?</text></g>
<g id="b4-5-2"><rect class="n" x="1581" y="3940" width="212" height="61" rx="4"/><text class="t"><tspan x="1586" y="3951">(2)有哪几种图形?请你数一数，正方形有几个</tspan><tspan x="1586" y="3964">?有哪3个，你能上来指给大家看一看吗?课件</tspan><tspan x="1586" y="3977">闪烁。长方形呢?三角形有几个?一起数一数。</tspan><tspan x="1586" y="3990">圆形呢?</tspan></text></g>
<g id="b4-5-2-1"><rect class="n" x="1812" y="3960" width="45" height="22" rx="4"/><text class="t" x="1817" y="3971">2、拼图</text></g>
<g id="b4-5-3"><rect class="n" x="1581" y="4024" width="212" height="61" rx="4"/><text class="t"><tspan x="1586" y="4035">(1)出示范品：你们看，这幅图像什么?找一找</tspan><tspan x="1586" y="4048">在这幅图里有哪些图形?你也能用信封中的这</tspan><tspan x="1586" y="4061">些图形拼一幅漂亮的图画吗?听音乐，比一比</tspan><tspan x="1586" y="4074">，看一看哪个小组拼的图画最漂亮。</tspan></text></g>
<g id="b4-5-4"><rect class="n" x="1581" y="4106" width="92" height="22" rx="4"/><text class="t" x="1586" y="4117">(2)小组合作活动。</text></g>
<g id="b4-5-5"><rect class="n" x="1581" y="4152" width="143" height="22" rx="4"/><text class="t" x="1586" y="4163">(3)全班交流汇报，教师小结。</text></g>

<!-- Related -->
<g id="rel"><rect class="b" x="1255" y="4391" width="246" height="47" rx="23"/><text class="bt"><tspan x="1278" y="4406">2021新人教版二年级数学下册教案</tspan><tspan x="1278" y="4424">相关文章:</tspan></text></g>
<g id="rel-1"><rect class="n" x="1522" y="4197" width="185" height="22" rx="4"/><text class="t" x="1527" y="4208">★ 2021最新人教版二年级数学下册教案</text></g>
<g id="rel-2"><rect class="n" x="1522" y="4242" width="206" height="22" rx="4"/><text class="t" x="1527" y="4253">★ 人教版二年级数学下册全册教案2021文案</text></g>
<g id="rel-3"><rect class="n" x="1522" y="4286" width="206" height="22" rx="4"/><text class="t" x="1527" y="4297">★ 2021最新人教版二年级下册数学对称教案</text></g>
<g id="rel-4"><rect class="n" x="1522" y="4331" width="185" height="22" rx="4"/><text class="t" x="1527" y="4342">★ 人教版小学二年级数学下册教案2021</text></g>
<g id="rel-5"><rect class="n" x="1522" y="4376" width="185" height="22" rx="4"/><text class="t" x="1527" y="4387">★ 二年级人教版数学下册教案2021范文</text></g>
<g id="rel-6"><rect class="n" x="1522" y="4420" width="176" height="22" rx="4"/><text class="t" x="1527" y="4431">★ 二年级数学下册教案2021最新</text></g>
<g id="rel-7"><rect class="n" x="1522" y="4465" width="185" height="22" rx="4"/><text class="t" x="1527" y="4476">★ 2021最新人教版二年级上册数学教案</text></g>
<g id="rel-8"><rect class="n" x="1522" y="4509" width="175" height="22" rx="4"/><text class="t" x="1527" y="4520">★ 最新2021春人教版二年级数学教案</text></g>
<g id="rel-9"><rect class="n" x="1522" y="4553" width="210" height="35" rx="4"/><text class="t"><tspan x="1527" y="4564">★ 人教版小学二年级数学下册第一单元教案2</tspan><tspan x="1527" y="4577">021文案</tspan></text></g>
<g id="rel-10"><rect class="n" x="1522" y="4612" width="185" height="22" rx="4"/><text class="t" x="1527" y="4623">★ 人教版小学二年级数学下册2教案最新</text></g>

<g id="watermark">
<text class="wm" transform="translate(350 700) rotate(-31.4)" textLength="697" lengthAdjust="spacingAndGlyphs">树图 <tspan font-style="italic">shutu.cn</tspan></text>
<text class="wm" transform="translate(1630 700) rotate(-31.4)" textLength="697" lengthAdjust="spacingAndGlyphs">树图 <tspan font-style="italic">shutu.cn</tspan></text>
<text class="wm" transform="translate(350 1715) rotate(-31.4)" textLength="697" lengthAdjust="spacingAndGlyphs">树图 <tspan font-style="italic">shutu.cn</tspan></text>
<text class="wm" transform="translate(1630 1715) rotate(-31.4)" textLength="697" lengthAdjust="spacingAndGlyphs">树图 <tspan font-style="italic">shutu.cn</tspan></text>
<text class="wm" transform="translate(350 2728) rotate(-31.4)" textLength="697" lengthAdjust="spacingAndGlyphs">树图 <tspan font-style="italic">shutu.cn</tspan></text>
<text class="wm" transform="translate(1630 2728) rotate(-31.4)" textLength="697" lengthAdjust="spacingAndGlyphs">树图 <tspan font-style="italic">shutu.cn</tspan></text>
<text class="wm" transform="translate(345 3697) rotate(-31.4)" textLength="697" lengthAdjust="spacingAndGlyphs">树图 <tspan font-style="italic">shutu.cn</tspan></text>
<text class="wm" transform="translate(1630 3697) rotate(-31.4)" textLength="697" lengthAdjust="spacingAndGlyphs">树图 <tspan font-style="italic">shutu.cn</tspan></text>
<text class="wm" transform="translate(350 4655) rotate(-31.4)" textLength="697" lengthAdjust="spacingAndGlyphs">树图 <tspan font-style="italic">shutu.cn</tspan></text>
<text class="wm" transform="translate(1630 4655) rotate(-31.4)" textLength="697" lengthAdjust="spacingAndGlyphs">树图 <tspan font-style="italic">shutu.cn</tspan></text>
</g>
</g>
</svg>
